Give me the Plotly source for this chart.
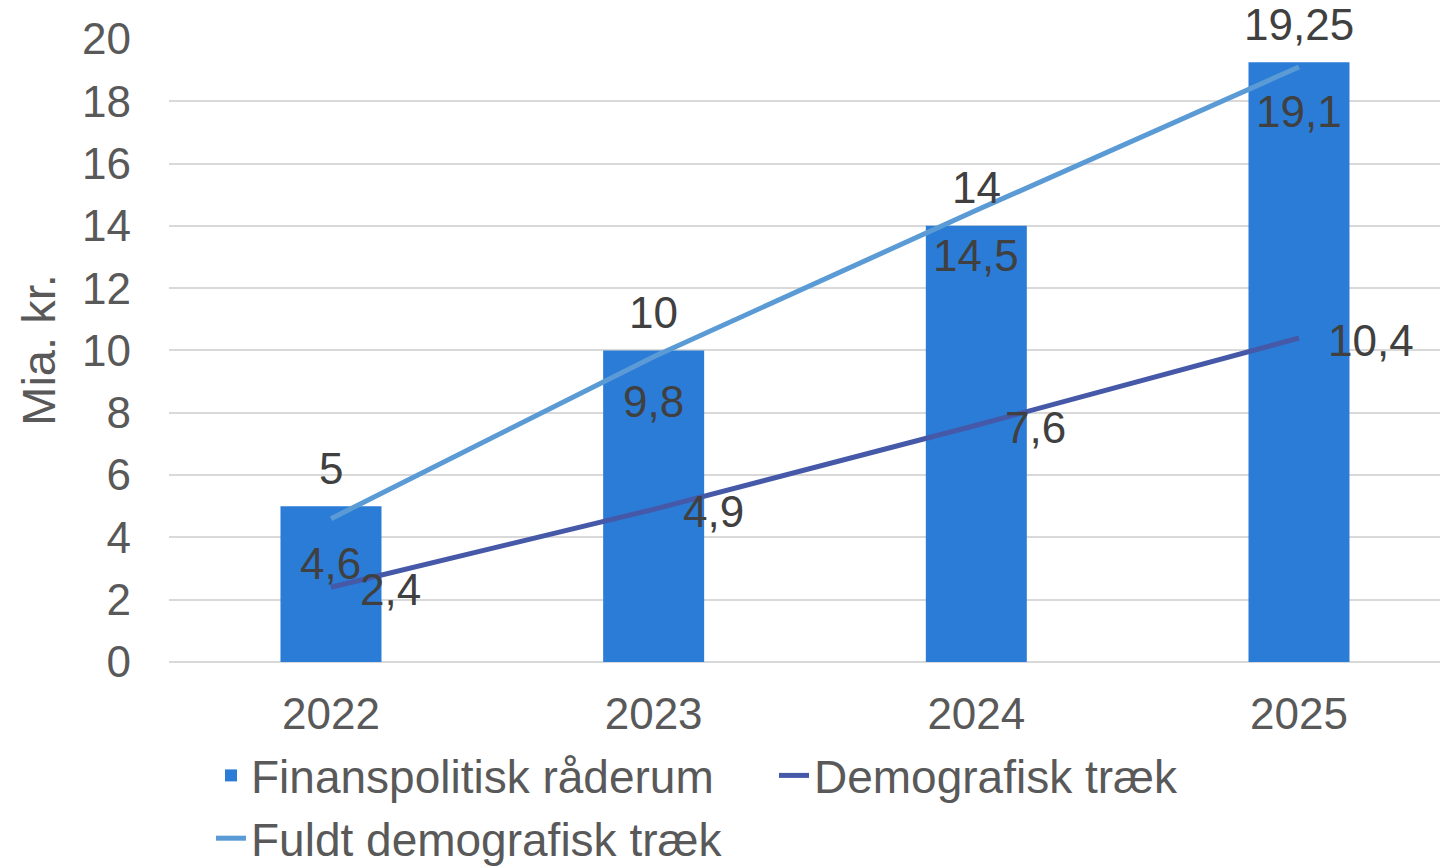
import plotly.graph_objects as go

years = ["2022", "2023", "2024", "2025"]
raaderum = [5, 10, 14, 19.25]
demografisk = [2.4, 4.9, 7.6, 10.4]
fuldt = [4.6, 9.8, 14.5, 19.1]
y_ticks = [0, 2, 4, 6, 8, 10, 12, 14, 16, 18, 20]

def fmt(v):
    return ("%g" % v).replace(".", ",")

FONT = "Liberation Sans, Arial, sans-serif"
LABEL_C = "#404040"
TICK_C = "#595959"
FS = 44

fig = go.Figure()
fig.add_trace(go.Bar(
    x=years, y=raaderum, name="Finanspolitisk råderum",
    marker=dict(color="#2b7cd6", line=dict(width=0)), width=0.313,
))
fig.add_trace(go.Scatter(
    x=years, y=demografisk, name="Demografisk træk", mode="lines",
    line=dict(color="#4559a8", width=5),
))
fig.add_trace(go.Scatter(
    x=years, y=fuldt, name="Fuldt demografisk træk", mode="lines",
    line=dict(color="#5b9bd5", width=5),
))

fig.update_layout(
    width=1446, height=868,
    margin=dict(l=169, r=6, t=38, b=206, autoexpand=False),
    paper_bgcolor="white", plot_bgcolor="white",
    font=dict(family=FONT, size=FS, color=TICK_C),
    showlegend=True,
    legend=dict(orientation="h", x=(211 - 169) / 1271, xanchor="left",
                y=-(739 - 662) / 624, yanchor="top",
                font=dict(size=46, color=TICK_C, family=FONT),
                itemwidth=30, entrywidth=518, tracegroupgap=0, traceorder="normal"),
    xaxis=dict(type="category", range=[-0.502, 3.437], showgrid=False, showline=False,
               zeroline=False, tickfont=dict(size=FS, color=TICK_C), ticks="",
               ticklabelstandoff=22),
    yaxis=dict(range=[0, 20.03], tickvals=y_ticks, ticktext=[str(t) for t in y_ticks],
               showgrid=True, gridcolor="#d9d9d9", gridwidth=2,
               zeroline=True, zerolinecolor="#d9d9d9", zerolinewidth=2,
               showline=False, ticks="", ticklabelstandoff=37,
               tickfont=dict(size=FS, color=TICK_C),
               title=dict(text="Mia. kr.", font=dict(size=47, color=TICK_C), standoff=11)),
)

# category axes place annotations by category index
for i, v in enumerate(raaderum):
    fig.add_annotation(x=i, y=v, xref="x", yref="y", text=fmt(v), showarrow=False,
                       yanchor="middle", yshift=38,
                       font=dict(size=FS, color=LABEL_C, family=FONT))
for i, v in enumerate(fuldt):
    fig.add_annotation(x=i, y=v, xref="x", yref="y", text=fmt(v), showarrow=False,
                       yanchor="middle", yshift=-45,
                       font=dict(size=FS, color=LABEL_C, family=FONT))
for i, v in enumerate(demografisk):
    fig.add_annotation(x=i, y=v, xref="x", yref="y", text=fmt(v), showarrow=False,
                       xanchor="left", xshift=27, yanchor="middle", yshift=-2,
                       font=dict(size=FS, color=LABEL_C, family=FONT))

fig.write_html("out.html", config={"displayModeBar": False},
               post_script="document.body.style.margin='0';document.body.style.padding='0';")
